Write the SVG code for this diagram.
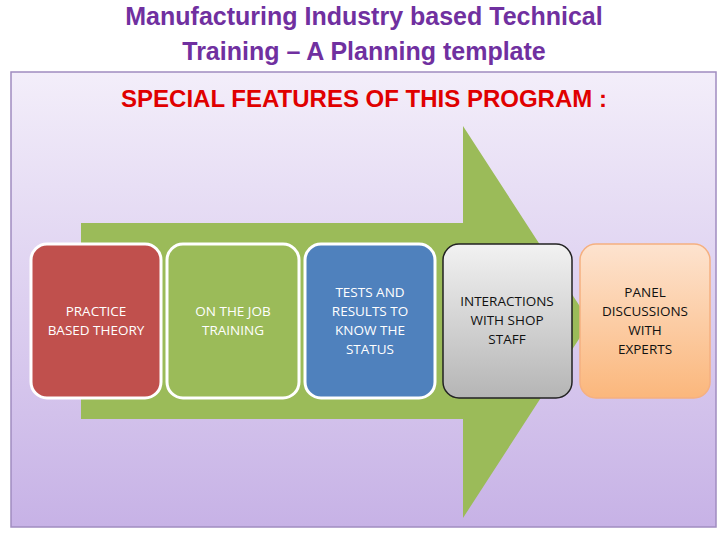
<svg xmlns="http://www.w3.org/2000/svg" width="728" height="546" viewBox="0 0 728 546">
<defs>
<linearGradient id="bg" x1="0" y1="0" x2="0" y2="1"><stop offset="0" stop-color="#f3eefa"/><stop offset="1" stop-color="#c7b2e6"/></linearGradient>
<linearGradient id="gr" x1="0" y1="0" x2="0" y2="1"><stop offset="0" stop-color="#f2f2f2"/><stop offset="1" stop-color="#b5b5b5"/></linearGradient>
<linearGradient id="or" x1="0" y1="0" x2="0" y2="1"><stop offset="0" stop-color="#fde3cf"/><stop offset="1" stop-color="#fbb77c"/></linearGradient>
<style>
.t{font-family:"Liberation Sans",Arial,sans-serif;text-anchor:middle}
.b{stroke:#fff;stroke-width:3}
.bx{font-family:"Open Sans","Liberation Sans",sans-serif;font-size:13.5px;text-anchor:middle}
</style>
</defs>
<rect width="728" height="546" fill="#fff"/>
<text class="t" x="364" y="25" font-size="25" font-weight="bold" fill="#7030a0">Manufacturing Industry based  Technical</text>
<text class="t" x="364" y="60" font-size="25" font-weight="bold" fill="#7030a0">Training – A Planning template</text>
<rect x="11" y="72" width="705" height="455" fill="url(#bg)" stroke="#a08cc0" stroke-width="1.5"/>
<text class="t" x="364" y="107" font-size="24" font-weight="bold" fill="#e00000">SPECIAL FEATURES OF THIS PROGRAM :</text>
<g id="connectors"><polygon points="81,223 463,223 463,126 590,322 463,518 463,419 81,419" fill="#9bbb59"/></g>
<g id="n1"><rect class="b" x="31" y="244" width="130" height="154" rx="16" fill="#c0504d"/><text class="bx" fill="#fff" x="96" y="316">PRACTICE</text><text class="bx" fill="#fff" x="96" y="335">BASED THEORY</text></g>
<g id="n2"><rect class="b" x="167" y="244" width="132" height="154" rx="16" fill="#9bbb59"/><text class="bx" fill="#fff" x="233" y="316">ON THE JOB</text><text class="bx" fill="#fff" x="233" y="335">TRAINING</text></g>
<g id="n3"><rect class="b" x="305" y="244" width="130" height="154" rx="16" fill="#4f81bd"/><text class="bx" fill="#fff" x="370" y="297">TESTS AND</text><text class="bx" fill="#fff" x="370" y="316">RESULTS TO</text><text class="bx" fill="#fff" x="370" y="335">KNOW THE</text><text class="bx" fill="#fff" x="370" y="354">STATUS</text></g>
<g id="n4"><rect x="443" y="244" width="129" height="154" rx="16" fill="url(#gr)" stroke="#222" stroke-width="1.5"/><text class="bx" fill="#111" x="507" y="306">INTERACTIONS</text><text class="bx" fill="#111" x="507" y="325">WITH SHOP</text><text class="bx" fill="#111" x="507" y="344">STAFF</text></g>
<g id="n5"><rect x="580" y="244" width="130" height="154" rx="16" fill="url(#or)" stroke="#f5b080" stroke-width="1.5"/><text class="bx" fill="#111" x="645" y="297">PANEL</text><text class="bx" fill="#111" x="645" y="316">DISCUSSIONS</text><text class="bx" fill="#111" x="645" y="335">WITH</text><text class="bx" fill="#111" x="645" y="354">EXPERTS</text></g>
</svg>
